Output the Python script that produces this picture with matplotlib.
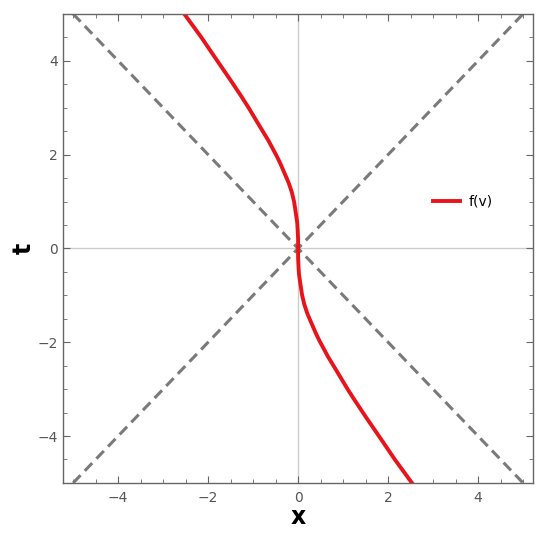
import numpy as np
import matplotlib
matplotlib.use("Agg")
from matplotlib import pyplot as plt
from matplotlib.ticker import MultipleLocator

# red curve f(v): points (t, x)
t_vals = [-5.0, -4.5, -4.09, -3.6, -3.24, -3.0, -2.6, -2.3, -1.96, -1.8, -1.6, -1.4, -1.2,
          -1.0, -0.75, -0.55, -0.4, -0.2, 0.0, 0.2, 0.4, 0.55, 0.75, 1.0, 1.2, 1.4, 1.6,
          1.8, 1.96, 2.3, 2.6, 3.0, 3.24, 3.6, 4.09, 4.5, 5.0]
x_vals = [2.53, 2.15, 1.86, 1.51, 1.26, 1.10, 0.85, 0.66, 0.47, 0.39, 0.30, 0.21, 0.14,
          0.09, 0.05, 0.02, 0.01, 0.0, 0.0, 0.0, -0.01, -0.02, -0.05, -0.09, -0.14, -0.21,
          -0.30, -0.39, -0.47, -0.66, -0.85, -1.10, -1.26, -1.51, -1.86, -2.15, -2.53]

# light cone lines t = x and t = -x
cone_x = [-5.0, 5.0]
cone_up = [-5.0, 5.0]
cone_down = [5.0, -5.0]

x_ticks = [-4, -2, 0, 2, 4]
t_ticks = [-4, -2, 0, 2, 4]

gray = "#666666"

fig = plt.figure(figsize=(5.5, 5.36), dpi=100)
ax = fig.add_axes([0.115, 0.099, 0.854, 0.875])

ax.axhline(0, color="#cccccc", lw=1, zorder=0)
ax.axvline(0, color="#cccccc", lw=1, zorder=0)

ax.plot(cone_x, cone_up, color="#7a7a7a", lw=2.2, ls=(0, (3.5, 2)))
ax.plot(cone_x, cone_down, color="#7a7a7a", lw=2.2, ls=(0, (3.5, 2)))
ax.plot(x_vals, t_vals, color="#e8141b", lw=2.8, label="f(v)", solid_joinstyle="round")

ax.set_xlim(-5.22, 5.22)
ax.set_ylim(-5, 5)
ax.set_xticks(x_ticks)
ax.set_yticks(t_ticks)
ax.set_xticklabels([str(v).replace("-", "\u2212") for v in x_ticks])
ax.set_yticklabels([str(v).replace("-", "\u2212") for v in t_ticks])
ax.xaxis.set_minor_locator(MultipleLocator(0.5))
ax.yaxis.set_minor_locator(MultipleLocator(0.5))
ax.tick_params(which="both", direction="in", top=True, right=True, color=gray,
               labelcolor="#555555", labelsize=10)
ax.tick_params(which="major", length=5, width=0.8)
ax.tick_params(which="minor", length=3, width=0.6)
ax.tick_params(axis="x", which="major", pad=6)
ax.tick_params(axis="y", which="major", pad=4)
for s in ax.spines.values():
    s.set_color(gray)
    s.set_linewidth(1)

ax.set_xlabel("x", fontsize=17, fontweight="bold", labelpad=0)
ax.set_ylabel("t", fontsize=17, fontweight="bold", labelpad=1)

ax.legend(loc="center left", bbox_to_anchor=(0.76, 0.6), frameon=False,
          fontsize=10, handlelength=2.0, handletextpad=0.6)

fig.savefig("out.png", dpi=100)
